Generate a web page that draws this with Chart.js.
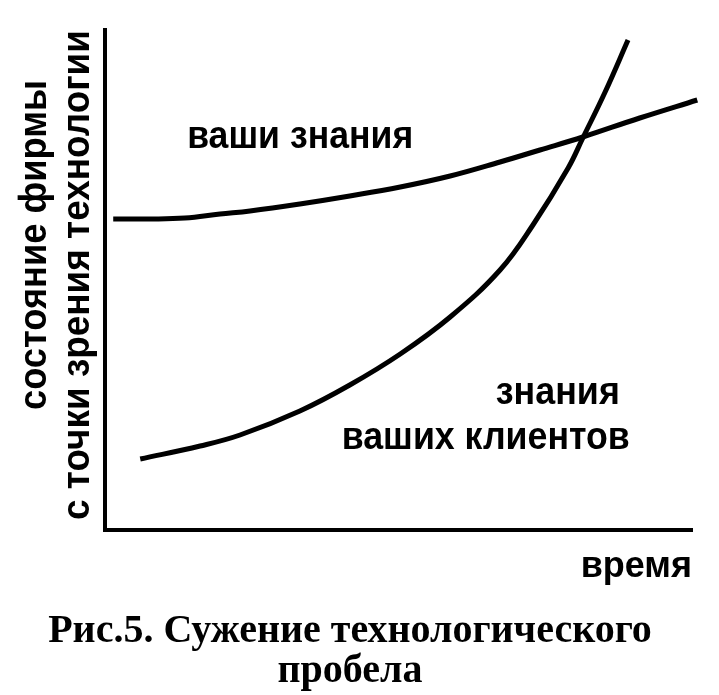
<!DOCTYPE html>
<html lang="ru">
<head>
<meta charset="utf-8">
<title>Сужение технологического пробела</title>
<script src="https://cdn.jsdelivr.net/npm/chart.js@4.4.1/dist/chart.umd.min.js"></script>
<style>
  html, body { margin: 0; padding: 0; background: #fff; }
  #wrap { width: 719px; height: 695px; position: relative; }
</style>
</head>
<body>
<div id="wrap"><canvas id="gap-chart"></canvas></div>
<script>
// время (0..100) и уровень знаний (0..100)
const timeOurs = [1.4, 7.7, 13.6, 19.6, 24.7, 33.2, 41.7, 50.3, 58.8, 67.3, 74.1, 81.4, 91.1, 100.9];
const ourKnowledge = [62.2, 62.2, 62.4, 63.2, 63.8, 65.2, 66.8, 68.6, 70.8, 73.6, 76.0, 78.6, 82.4, 86.0];

const timeClients = [6.0, 16.2, 23.0, 33.2, 41.7, 50.3, 58.8, 67.3, 72.9, 78.9, 81.4, 85.2, 89.1];
const clientKnowledge = [14.2, 16.8, 19.0, 23.8, 29.0, 35.2, 42.6, 52.0, 61.0, 72.4, 78.4, 87.6, 98.0];

const yTitleLines = ['состояние фирмы', 'с точки зрения технологии'];
const xTitle = 'время';
const caption = ['Рис.5. Сужение технологического', 'пробела'];

function toPoints(xs, ys) {
    return xs.map((x, i) => ({ x: x, y: ys[i] }));
}

document.addEventListener('DOMContentLoaded', function() {
    if (typeof Chart === 'undefined') { console.error('Chart.js не загружен'); return; }

    const sans = "'Liberation Sans', Arial, sans-serif";

    // подписи кривых и вертикальная подпись оси
    const labelsPlugin = {
        id: 'curveLabels',
        afterDraw(chart) {
            const ctx = chart.ctx;
            const x = chart.scales.x, y = chart.scales.y;
            ctx.save();
            ctx.fillStyle = '#000';
            ctx.font = 'bold 39px ' + sans;
            ctx.textBaseline = 'alphabetic';

            ctx.textAlign = 'left';
            ctx.fillText('ваши знания', x.getPixelForValue(14.0), y.getPixelForValue(76.4), 226);
            ctx.textAlign = 'right';
            ctx.fillText('знания', x.getPixelForValue(87.7), y.getPixelForValue(25.2), 124);
            ctx.fillText('ваших клиентов', x.getPixelForValue(89.4), y.getPixelForValue(16.2), 288);

            // ось Y: две строки, повернуты
            const cols = [
                { text: yTitleLines[0], bx: 46, cy: 245, w: 330 },
                { text: yTitleLines[1], bx: 89, cy: 275, w: 490 }
            ];
            ctx.textAlign = 'center';
            cols.forEach(c => {
                ctx.save();
                ctx.translate(c.bx, c.cy);
                ctx.rotate(-Math.PI / 2);
                ctx.fillText(c.text, 0, 0, c.w);
                ctx.restore();
            });
            ctx.restore();
        }
    };

    const ctx = document.getElementById('gap-chart').getContext('2d');

    new Chart(ctx, {
        type: 'line',
        data: {
            datasets: [
                {
                    label: 'ваши знания',
                    data: toPoints(timeOurs, ourKnowledge),
                    borderColor: '#000',
                    borderWidth: 5,
                    pointRadius: 0,
                    tension: 0.4,
                    fill: false,
                    clip: false
                },
                {
                    label: 'знания ваших клиентов',
                    data: toPoints(timeClients, clientKnowledge),
                    borderColor: '#000',
                    borderWidth: 5,
                    pointRadius: 0,
                    tension: 0.4,
                    fill: false,
                    clip: false
                }
            ]
        },
        options: {
            responsive: true,
            maintainAspectRatio: false,
            animation: false,
            events: [],
            layout: {
                padding: { left: 8, right: 27, top: 30, bottom: 3 }
            },
            plugins: {
                legend: { display: false },
                tooltip: { enabled: false },
                title: {
                    display: true,
                    position: 'bottom',
                    text: caption,
                    color: '#000',
                    font: { family: "'Liberation Serif', 'Times New Roman', serif", size: 40, weight: 'bold', lineHeight: 1 },
                    padding: { top: 27, bottom: 0 }
                }
            },
            scales: {
                x: {
                    type: 'linear',
                    min: 0,
                    max: 100,
                    grid: { display: false, drawTicks: false },
                    ticks: { display: false },
                    border: { display: true, color: '#000', width: 4 },
                    title: {
                        display: true,
                        text: xTitle,
                        align: 'end',
                        color: '#000',
                        font: { family: sans, size: 36, weight: 'bold', lineHeight: 1 },
                        padding: { top: 19, bottom: 0 }
                    }
                },
                y: {
                    type: 'linear',
                    min: 0,
                    max: 100,
                    grid: { display: false, drawTicks: false },
                    ticks: { display: false },
                    border: { display: true, color: '#000', width: 4 },
                    // место под повернутую подпись оси
                    afterFit: function(scale) { scale.width = 97; }
                }
            }
        },
        plugins: [labelsPlugin]
    });
});
</script>
</body>
</html>
